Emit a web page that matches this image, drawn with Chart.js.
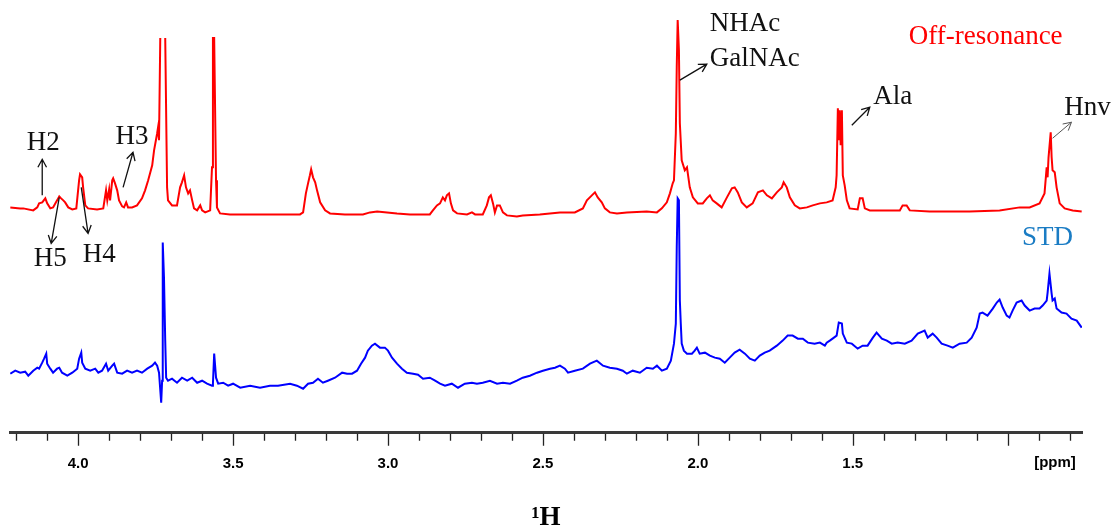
<!DOCTYPE html>
<html>
<head>
<meta charset="utf-8">
<title>STD NMR</title>
<script src="https://cdn.jsdelivr.net/npm/chart.js@4.4.1/dist/chart.umd.min.js"></script>
<style>
  html, body { margin: 0; padding: 0; background: #fff; }
  #wrap { width: 1115px; height: 529px; }
</style>
</head>
<body>
<div id="wrap"><canvas id="spec" width="1115" height="529"></canvas></div>
<script>
// chemical shift (ppm) and intensity (a.u.) of the off-resonance spectrum
const offPpm = [
  4.219, 4.187, 4.177, 4.145, 4.132, 4.126, 4.116, 4.106, 4.100, 4.090,
  4.081, 4.068, 4.061, 4.055, 4.048, 4.042, 4.032, 4.019, 4.006, 3.997,
  3.994, 3.987, 3.984, 3.977, 3.968, 3.939, 3.919, 3.910, 3.906, 3.900,
  3.897, 3.890, 3.887, 3.881, 3.874, 3.868, 3.858, 3.852, 3.845, 3.839,
  3.826, 3.810, 3.794, 3.784, 3.774, 3.761, 3.755, 3.745, 3.742, 3.739,
  3.735, 3.727, 3.719, 3.713, 3.710, 3.697, 3.681, 3.671, 3.665, 3.658,
  3.652, 3.645, 3.639, 3.632, 3.626, 3.616, 3.606, 3.600, 3.590, 3.574,
  3.568, 3.565, 3.561, 3.555, 3.552, 3.542, 3.510, 3.413, 3.284, 3.274,
  3.265, 3.258, 3.252, 3.248, 3.242, 3.235, 3.229, 3.219, 3.203, 3.187,
  3.139, 3.081, 3.058, 3.035, 3.003, 2.971, 2.929, 2.865, 2.855, 2.842,
  2.832, 2.823, 2.816, 2.810, 2.803, 2.797, 2.790, 2.777, 2.745, 2.729,
  2.719, 2.694, 2.681, 2.674, 2.668, 2.661, 2.655, 2.648, 2.639, 2.629,
  2.616, 2.584, 2.565, 2.510, 2.445, 2.397, 2.371, 2.358, 2.342, 2.332,
  2.323, 2.310, 2.300, 2.284, 2.261, 2.229, 2.165, 2.132, 2.116, 2.100,
  2.090, 2.081, 2.077, 2.071, 2.068, 2.065, 2.061, 2.058, 2.052, 2.042,
  2.035, 2.026, 2.016, 2.000, 1.984, 1.971, 1.961, 1.952, 1.939, 1.923,
  1.906, 1.890, 1.881, 1.871, 1.858, 1.842, 1.823, 1.806, 1.790, 1.777,
  1.761, 1.745, 1.729, 1.723, 1.713, 1.703, 1.687, 1.671, 1.648, 1.629,
  1.606, 1.584, 1.565, 1.555, 1.552, 1.548, 1.545, 1.542, 1.539, 1.535,
  1.532, 1.526, 1.519, 1.510, 1.484, 1.477, 1.468, 1.461, 1.445, 1.348,
  1.339, 1.326, 1.316, 1.252, 1.123, 1.026, 0.961, 0.929, 0.897, 0.881,
  0.874, 0.871, 0.868, 0.861, 0.858, 0.855, 0.848, 0.842, 0.832, 0.816,
  0.790, 0.761
];
// null = top of the truncated 3.73 ppm line
const offIntensity = [
  6, 5, 5, 3, 6, 10, 11, 15, 10, 5,
  6, 13, 17, 15, 13, 11, 6, 4, 5, 33,
  39, 36, 26, 8, 5, 4, 5, 23, 13, 24,
  13, 33, 35, 30, 23, 13, 7, 6, 11, 6,
  6, 8, 15, 23, 33, 48, 63, 80, 86, 73,
  175, null, 175, 26, 13, 8, 8, 26, 31, 38,
  26, 20, 23, 13, 5, 3, 8, 3, 1, 3,
  46, 175, 175, 33, 6, 0, -1, -1, -1, 1,
  20, 30, 38, 44, 36, 31, 23, 11, 3, 0,
  -1, -1, 1, 2, 1, 0, -1, -1, 3, 8,
  10, 16, 13, 18, 20, 10, 3, 0, -1, 1,
  -1, -1, 8, 16, 18, 10, 1, 8, 8, 1,
  -2, -3, -2, -1, 1, 1, 5, 13, 18, 21,
  16, 11, 5, 1, 0, 1, 2, 1, 5, 11,
  20, 30, 33, 80, 146, 193, 163, 90, 53, 43,
  46, 26, 16, 10, 10, 15, 18, 13, 10, 6,
  16, 25, 26, 21, 11, 6, 10, 21, 23, 18,
  15, 21, 26, 31, 26, 16, 8, 5, 6, 8,
  10, 11, 13, 26, 38, 105, 73, 103, 68, 103,
  38, 28, 13, 5, 4, 15, 15, 5, 3, 3,
  8, 8, 3, 2, 2, 3, 6, 6, 10, 20,
  46, 36, 56, 81, 56, 43, 41, 26, 10, 5,
  3, 2
];

// STD difference spectrum
const stdPpm = [
  4.219, 4.203, 4.187, 4.171, 4.161, 4.145, 4.132, 4.126, 4.116, 4.110,
  4.103, 4.100, 4.090, 4.081, 4.068, 4.061, 4.052, 4.035, 4.019, 4.003,
  3.997, 3.990, 3.987, 3.977, 3.961, 3.945, 3.935, 3.923, 3.910, 3.903,
  3.890, 3.884, 3.874, 3.858, 3.842, 3.826, 3.810, 3.794, 3.777, 3.761,
  3.752, 3.745, 3.739, 3.732, 3.729, 3.727, 3.723, 3.719, 3.716, 3.710,
  3.697, 3.681, 3.665, 3.648, 3.632, 3.616, 3.600, 3.584, 3.568, 3.565,
  3.561, 3.555, 3.548, 3.532, 3.516, 3.500, 3.477, 3.445, 3.413, 3.381,
  3.355, 3.316, 3.294, 3.274, 3.258, 3.242, 3.226, 3.210, 3.194, 3.171,
  3.148, 3.132, 3.116, 3.100, 3.087, 3.074, 3.065, 3.052, 3.042, 3.026,
  3.010, 3.000, 2.987, 2.971, 2.955, 2.939, 2.919, 2.903, 2.887, 2.865,
  2.848, 2.832, 2.816, 2.794, 2.774, 2.752, 2.729, 2.713, 2.694, 2.671,
  2.648, 2.629, 2.606, 2.584, 2.565, 2.542, 2.519, 2.500, 2.477, 2.461,
  2.445, 2.429, 2.419, 2.397, 2.371, 2.348, 2.326, 2.306, 2.284, 2.261,
  2.242, 2.229, 2.210, 2.187, 2.165, 2.145, 2.132, 2.116, 2.100, 2.087,
  2.077, 2.071, 2.068, 2.065, 2.061, 2.058, 2.055, 2.052, 2.045, 2.035,
  2.019, 2.010, 2.003, 1.994, 1.977, 1.961, 1.945, 1.929, 1.913, 1.897,
  1.881, 1.865, 1.848, 1.832, 1.816, 1.800, 1.784, 1.768, 1.745, 1.726,
  1.710, 1.694, 1.677, 1.661, 1.645, 1.623, 1.606, 1.590, 1.584, 1.574,
  1.565, 1.552, 1.545, 1.535, 1.532, 1.519, 1.503, 1.484, 1.468, 1.452,
  1.435, 1.423, 1.406, 1.390, 1.374, 1.355, 1.332, 1.310, 1.290, 1.268,
  1.258, 1.242, 1.229, 1.213, 1.194, 1.177, 1.155, 1.132, 1.116, 1.100,
  1.090, 1.081, 1.065, 1.048, 1.035, 1.026, 1.016, 1.003, 0.994, 0.984,
  0.971, 0.955, 0.945, 0.929, 0.913, 0.897, 0.887, 0.874, 0.871, 0.865,
  0.858, 0.855, 0.848, 0.842, 0.826, 0.810, 0.794, 0.777, 0.761
];
const stdIntensity = [
  12, 15, 13, 14, 10, 15, 18, 17, 23, 27,
  32, 22, 17, 13, 17, 18, 13, 10, 13, 17,
  27, 33, 23, 17, 15, 17, 13, 15, 22, 15,
  20, 22, 13, 12, 15, 13, 15, 13, 17, 20,
  23, 20, 13, -17, 5, 143, 108, 45, 8, 5,
  7, 3, 8, 5, 8, 3, 5, 2, 0, 2,
  32, 8, 2, 3, 0, 2, -2, 0, -2, 0,
  0, 2, 0, -3, 2, 3, 7, 3, 5, 8,
  13, 12, 12, 15, 22, 28, 35, 40, 42, 38,
  38, 35, 28, 22, 17, 13, 12, 11, 7, 8,
  5, 2, 0, 2, -2, 2, 3, 2, 3, 5,
  2, 3, 2, 5, 8, 10, 13, 15, 17, 18,
  20, 17, 13, 15, 17, 22, 25, 20, 18, 17,
  15, 12, 15, 13, 18, 17, 20, 15, 17, 25,
  42, 62, 138, 187, 185, 85, 62, 42, 35, 32,
  32, 35, 38, 32, 33, 30, 28, 27, 23, 28,
  33, 36, 32, 27, 25, 30, 33, 35, 40, 45,
  50, 50, 47, 47, 43, 42, 43, 40, 43, 45,
  47, 50, 63, 62, 52, 43, 42, 37, 40, 40,
  48, 53, 47, 45, 42, 43, 42, 45, 52, 55,
  48, 52, 48, 42, 40, 38, 42, 43, 48, 58,
  72, 73, 70, 77, 83, 86, 78, 70, 68, 75,
  83, 85, 80, 75, 77, 77, 80, 85, 93, 112,
  92, 85, 87, 77, 73, 72, 67, 65, 58
];

// labelled ppm values on the axis (1.0 gives way to the unit)
const tickLabels = ['4.0', '3.5', '3.0', '2.5', '2.0', '1.5'];

// vertical stacking of the two traces
const offOffset = 219;
const stdOffset = 47;

// peak assignments: text anchors and arrows in (ppm, plot units)
const notes = [
  { text: 'NHAc', x: 1.848, y: 408 },
  { text: 'GalNAc', x: 1.816, y: 373 },
  { text: 'Off-resonance', x: 1.071, y: 395, color: '#ff0000' },
  { text: 'Ala', x: 1.371, y: 335 },
  { text: 'Hnv', x: 0.742, y: 324 },
  { text: 'STD', x: 0.871, y: 195, color: '#1a7cc4' },
  { text: 'H2', x: 4.113, y: 289 },
  { text: 'H3', x: 3.826, y: 295 },
  { text: 'H5', x: 4.090, y: 174 },
  { text: 'H4', x: 3.932, y: 178 }
];
const arrows = [
  { from: [4.116, 237], to: [4.116, 273] },
  { from: [4.061, 235], to: [4.087, 189] },
  { from: [3.990, 245], to: [3.968, 199] },
  { from: [3.855, 245], to: [3.823, 280] },
  { from: [2.058, 352], to: [1.971, 368] },
  { from: [1.503, 307], to: [1.445, 325] },
  { from: [0.855, 294], to: [0.794, 310], color: '#555', width: 1 }
];

function toPoints(ppm, vals, offset) {
  return ppm.map((p, i) => ({ x: p, y: vals[i] === null ? null : vals[i] + offset }));
}

const serif = "'Liberation Serif', 'Times New Roman', serif";
const narrow = "'Liberation Sans Narrow', 'Arial Narrow', 'Liberation Sans', sans-serif";

// minor/major tick marks, unit label and assignments
const decorPlugin = {
  id: 'decor',
  afterDraw(chart) {
    const ctx = chart.ctx;
    const xs = chart.scales.x;
    const ys = chart.scales.y;
    const area = chart.chartArea;

    ctx.save();
    ctx.strokeStyle = '#222';
    ctx.lineWidth = 1.3;
    ctx.beginPath();
    xs.ticks.forEach(t => {
      const px = Math.round(xs.getPixelForValue(t.value)) + 0.5;
      const major = Math.round(t.value * 10) % 5 === 0;
      ctx.moveTo(px, area.bottom + 1);
      ctx.lineTo(px, area.bottom + (major ? 13 : 8));
    });
    ctx.stroke();

    ctx.fillStyle = '#000';
    ctx.font = 'bold 15px ' + narrow;
    ctx.textAlign = 'center';
    ctx.textBaseline = 'middle';
    ctx.fillText('[ppm]', area.right - 27, area.bottom + 30);

    ctx.font = '27px ' + serif;
    notes.forEach(n => {
      ctx.fillStyle = n.color || '#111';
      ctx.fillText(n.text, xs.getPixelForValue(n.x), ys.getPixelForValue(n.y));
    });

    arrows.forEach(a => {
      const x1 = xs.getPixelForValue(a.from[0]), y1 = ys.getPixelForValue(a.from[1]);
      const x2 = xs.getPixelForValue(a.to[0]), y2 = ys.getPixelForValue(a.to[1]);
      const ang = Math.atan2(y2 - y1, x2 - x1);
      const head = 9;
      ctx.strokeStyle = a.color || '#111';
      ctx.lineWidth = a.width || 1.3;
      ctx.beginPath();
      ctx.moveTo(x1, y1);
      ctx.lineTo(x2, y2);
      ctx.moveTo(x2 - head * Math.cos(ang - 0.5), y2 - head * Math.sin(ang - 0.5));
      ctx.lineTo(x2, y2);
      ctx.lineTo(x2 - head * Math.cos(ang + 0.5), y2 - head * Math.sin(ang + 0.5));
      ctx.stroke();
    });
    ctx.restore();
  }
};

new Chart(document.getElementById('spec'), {
  type: 'line',
  data: {
    datasets: [
      {
        label: 'Off-resonance',
        data: toPoints(offPpm, offIntensity, offOffset),
        borderColor: '#ff0000',
        borderWidth: 2,
        pointRadius: 0,
        tension: 0,
        spanGaps: false
      },
      {
        label: 'STD',
        data: toPoints(stdPpm, stdIntensity, stdOffset),
        borderColor: '#0000ff',
        borderWidth: 2,
        pointRadius: 0,
        tension: 0
      }
    ]
  },
  options: {
    responsive: false,
    animation: false,
    events: [],
    layout: { padding: { left: 10, right: 33, top: 0, bottom: -5 } },
    plugins: {
      legend: { display: false },
      tooltip: { enabled: false }
    },
    scales: {
      x: {
        type: 'linear',
        reverse: true,
        min: 0.76,
        max: 4.22,
        border: { display: true, color: '#3a3a3a', width: 3 },
        // invisible tick marks only reserve the gap above the labels
        grid: {
          display: true,
          drawOnChartArea: false,
          drawTicks: true,
          tickLength: 22,
          tickColor: 'rgba(0,0,0,0)'
        },
        ticks: {
          stepSize: 0.1,
          includeBounds: false,
          autoSkip: false,
          maxRotation: 0,
          minRotation: 0,
          padding: 0,
          color: '#000',
          font: { family: narrow, size: 15, weight: 'bold' },
          callback: v => {
            const s = Number(v).toFixed(1);
            return tickLabels.includes(s) ? s : '';
          }
        },
        title: {
          display: true,
          text: '¹H',
          color: '#000',
          font: { family: serif, size: 27, weight: 'bold' },
          padding: { top: 28.8, bottom: 0 }
        }
      },
      y: {
        display: false,
        min: 0,
        max: 432
      }
    }
  },
  plugins: [decorPlugin]
});
</script>
</body>
</html>
